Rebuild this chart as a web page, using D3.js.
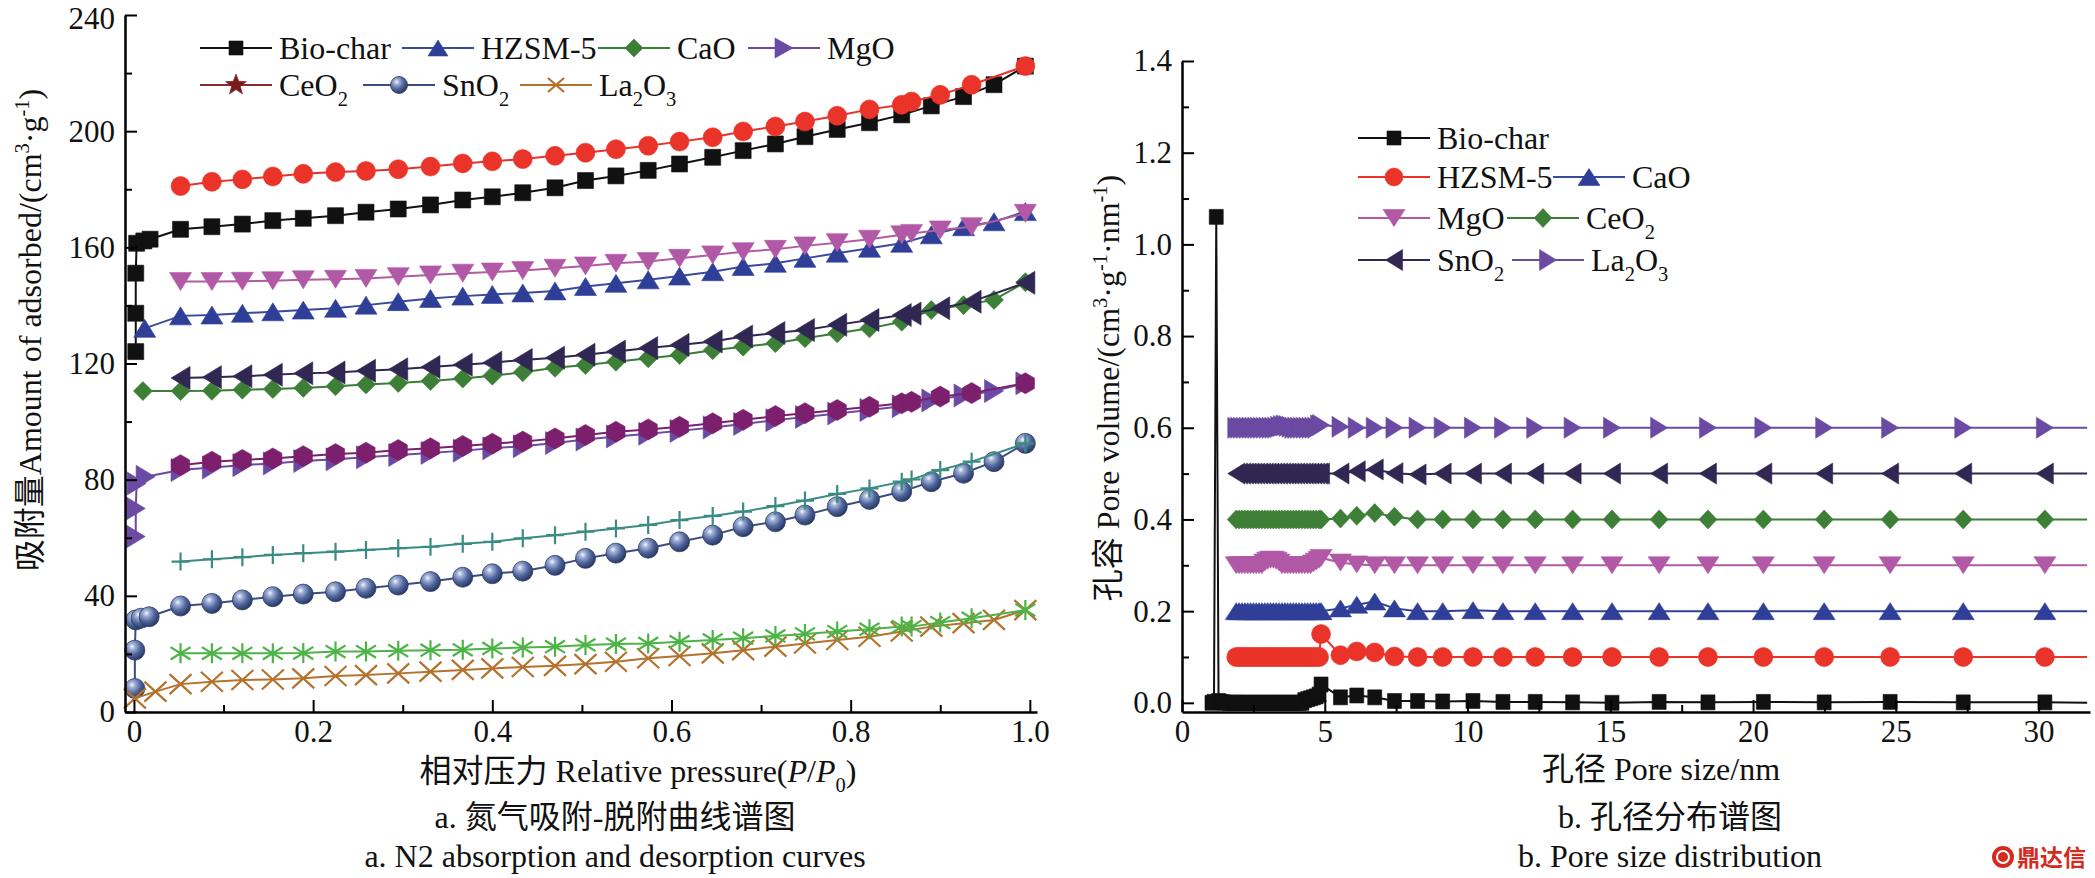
<!DOCTYPE html>
<html><head><meta charset="utf-8">
<script src="https://cdn.jsdelivr.net/npm/d3@7/dist/d3.min.js"></script>
<style>
html,body{margin:0;padding:0;background:#fff;}
svg{display:block;}
</style></head>
<body>
<svg id="chart" width="2095" height="878" xmlns="http://www.w3.org/2000/svg"></svg>
<script>
// ================= DATA: (a) N2 adsorption / desorption =================
const P_ADS = [0.052,0.087,0.121,0.155,0.189,0.225,0.259,0.295,0.331,0.367,0.400,0.434,0.470,0.504,0.538,0.574,0.609,0.646,0.680,0.716,0.749,0.785,0.821,0.857,0.890,0.926,0.960,0.995];
const P_DES = [0.052,0.087,0.121,0.155,0.189,0.225,0.259,0.295,0.331,0.367,0.400,0.434,0.470,0.504,0.538,0.574,0.609,0.646,0.680,0.716,0.749,0.785,0.821,0.857,0.868,0.900,0.935,0.995];

const BIOCHAR_LOW_P = [0.002,0.002,0.002,0.003,0.011,0.018];
const BIOCHAR_LOW   = [124.1,137.3,151.1,161.4,162.2,162.8];
const BIOCHAR_ADS = [166.2,167.1,168.0,169.2,170.0,170.9,172.1,173.2,174.6,176.3,177.4,178.8,180.5,183.0,184.6,186.5,188.7,191.0,193.3,195.6,198.1,200.6,202.9,205.6,208.7,211.9,216.0,222.4];
const BIOCHAR_DES = [181.1,182.6,183.4,184.4,185.3,185.9,186.3,186.9,187.8,188.9,189.6,190.4,191.5,192.6,193.8,195.0,196.4,197.9,199.9,201.6,203.3,205.3,207.5,209.1,210.2,212.5,216.0,222.4];

const HZSM_LOW_P = [0.012];
const HZSM_LOW   = [132.1];
const HZSM_ADS = [136.4,136.7,137.3,137.8,138.4,139.0,140.1,141.3,142.4,143.2,143.8,144.3,145.0,146.5,147.6,148.8,150.1,151.6,153.4,154.5,156.2,158.0,159.7,161.4,164.3,167.1,168.8,172.3];
const HZSM_DES = [148.2,148.2,148.3,148.5,148.8,149.0,149.3,149.9,150.5,151.1,151.5,152.0,152.8,153.6,154.5,155.1,156.2,157.4,158.5,159.3,160.5,161.6,162.8,164.3,164.8,166.0,167.1,171.7];

const CAO_LOW_P = [0.010];
const CAO_LOW   = [110.5];
const CAO_ADS = [110.5,110.6,111.0,111.2,111.6,112.2,112.8,113.3,114.0,114.8,115.8,117.0,118.5,119.5,120.6,121.8,122.9,124.6,125.8,127.0,128.7,130.4,132.1,134.4,138.4,140.1,141.9,148.0];
const CAO_DES = [115.0,115.3,115.6,116.1,116.6,116.9,117.5,118.0,118.8,119.6,120.3,121.2,122.0,123.0,124.1,125.3,126.4,127.6,129.3,130.5,131.5,133.3,135.0,136.7,137.2,139.0,141.3,147.8];

const MGO_LOW_P = [0.002,0.002,0.003,0.013];
const MGO_LOW   = [60.4,70.1,78.7,81.0];
const MGO_ADS = [83.3,84.2,85.0,85.6,86.4,87.0,87.7,88.5,89.2,90.0,90.8,91.5,92.6,93.8,94.9,95.8,96.8,98.0,99.2,100.5,101.6,102.8,104.0,105.3,107.3,109.0,110.5,113.2];
const MGO_DES = [85.0,86.2,86.8,87.3,88.1,88.8,89.3,90.2,90.8,91.6,92.4,93.1,94.2,95.4,96.5,97.3,98.2,99.4,100.6,101.9,102.9,104.0,105.1,106.3,106.8,108.6,109.8,113.2];

const SNO2_LOW_P = [0.001,0.001,0.002,0.008,0.017];
const SNO2_LOW   = [8.1,21.3,31.7,32.3,32.8];
const SNO2_ADS = [36.5,37.4,38.6,39.7,40.6,41.4,42.6,43.7,44.9,46.4,47.6,48.5,50.5,52.9,54.7,56.4,58.6,60.9,63.8,65.5,67.8,70.7,73.2,75.9,79.3,82.2,86.2,92.5];
const SNO2_DES = [51.8,52.6,53.3,54.1,54.7,55.2,55.8,56.4,56.9,57.9,58.6,59.8,60.9,62.1,63.2,64.4,66.1,67.5,69.0,70.9,72.8,75.1,77.0,79.3,80.1,83.3,86.2,92.5];

const LA_LOW_P = [0.001,0.024];
const LA_LOW   = [4.7,7.0];
const LA_ADS = [9.6,10.4,11.0,11.2,11.6,12.4,12.7,13.3,13.9,14.5,15.0,15.5,15.9,16.5,17.3,18.5,19.3,20.2,21.3,22.5,23.6,24.8,25.9,27.7,29.4,30.6,31.7,35.1];
const LA_DES = [20.2,20.2,20.2,20.2,20.3,20.8,20.8,21.1,21.3,21.4,21.9,22.2,22.5,23.1,23.4,23.6,24.2,24.8,25.4,26.2,26.9,27.7,28.5,29.4,29.4,30.8,32.3,35.1];

const A_X_TICKS = [0,0.2,0.4,0.6,0.8,1.0];
const A_X_MINOR = [0.1,0.3,0.5,0.7,0.9];
const A_Y_TICKS = [0,40,80,120,160,200,240];
const A_Y_MINOR = [20,60,100,140,180,220];

// ================= DATA: (b) pore size distribution =================
const BIO_PSD_LOW_X = [1.05,1.12,1.20,1.28,1.36,1.45,1.55,1.65,1.75,1.85];
const BIO_PSD_LOW   = [0.000,0.002,1.060,0.004,0.002,0.001,0.000,0.000,0.000,0.000];
const PSD_DENSE_X = [1.9,2.0,2.1,2.2,2.3,2.4,2.5,2.6,2.7,2.8,2.9,3.0,3.1,3.2,3.3,3.4,3.5,3.6,3.7,3.8,3.9,4.0,4.1,4.2,4.3,4.4,4.5,4.6,4.7,4.8];
const PSD_LARGE_X = [4.87,5.55,6.12,6.75,7.44,8.25,9.13,10.19,11.24,12.37,13.68,15.06,16.71,18.42,20.36,22.49,24.8,27.36,30.22];
const PSD_END_X = 31.7;

const BIO_PSD_DENSE  = [0,0,0,0,0,0,0,0,0,0,0,0,0,0,0,0,0,0,0,0,0,0,0,0,0.006,0.008,0.010,0.012,0.014,0.018];
const BIO_PSD_LARGE  = [0.040,0.012,0.016,0.012,0.004,0.004,0.003,0.004,0.002,0.002,0.001,0.000,0.002,0.001,0.002,0.001,0.002,0.001,0.001];
const HZSM_PSD_DENSE = [0.1,0.1,0.1,0.1,0.1,0.1,0.1,0.1,0.1,0.1,0.1,0.1,0.1,0.1,0.1,0.1,0.1,0.1,0.1,0.1,0.1,0.1,0.1,0.1,0.1,0.1,0.1,0.1,0.1,0.1];
const HZSM_PSD_LARGE = [0.150,0.104,0.112,0.110,0.101,0.100,0.100,0.100,0.100,0.100,0.100,0.100,0.100,0.100,0.100,0.100,0.100,0.100,0.100];
const CAO_PSD_DENSE  = [0.2,0.2,0.2,0.2,0.2,0.2,0.2,0.2,0.2,0.2,0.2,0.2,0.2,0.2,0.2,0.2,0.2,0.2,0.2,0.2,0.2,0.2,0.2,0.2,0.2,0.2,0.2,0.2,0.2,0.2];
const CAO_PSD_LARGE  = [0.200,0.206,0.214,0.221,0.206,0.200,0.200,0.202,0.200,0.200,0.200,0.200,0.200,0.200,0.200,0.200,0.200,0.200,0.200];
const MGO_PSD_DENSE  = [0.3,0.3,0.3,0.3,0.3,0.3,0.3,0.3,0.3,0.3,0.306,0.310,0.312,0.312,0.310,0.306,0.3,0.3,0.3,0.3,0.3,0.3,0.3,0.3,0.3,0.3,0.3,0.304,0.308,0.312];
const MGO_PSD_LARGE  = [0.316,0.306,0.302,0.300,0.300,0.300,0.300,0.300,0.300,0.300,0.300,0.300,0.300,0.300,0.300,0.300,0.300,0.300,0.300];
const CEO2_PSD_DENSE = [0.4,0.4,0.4,0.4,0.4,0.4,0.4,0.4,0.4,0.4,0.4,0.4,0.4,0.4,0.4,0.4,0.4,0.4,0.4,0.4,0.4,0.4,0.4,0.4,0.4,0.4,0.4,0.4,0.4,0.4];
const CEO2_PSD_LARGE = [0.400,0.402,0.408,0.414,0.406,0.400,0.400,0.400,0.400,0.400,0.400,0.400,0.400,0.400,0.400,0.400,0.400,0.400,0.400];
const SNO2_PSD_DENSE = [0.5,0.5,0.5,0.5,0.5,0.5,0.5,0.5,0.5,0.5,0.5,0.5,0.5,0.5,0.5,0.5,0.5,0.5,0.5,0.5,0.5,0.5,0.5,0.5,0.5,0.5,0.5,0.5,0.5,0.5];
const SNO2_PSD_LARGE = [0.500,0.500,0.505,0.509,0.501,0.498,0.500,0.500,0.500,0.500,0.500,0.500,0.500,0.500,0.500,0.500,0.500,0.500,0.500];
const LA_PSD_DENSE   = [0.6,0.6,0.6,0.6,0.6,0.6,0.6,0.6,0.6,0.6,0.6,0.6,0.6,0.6,0.6,0.602,0.604,0.605,0.604,0.602,0.6,0.6,0.6,0.6,0.6,0.6,0.6,0.6,0.6,0.605];
const LA_PSD_LARGE   = [0.606,0.602,0.600,0.600,0.600,0.600,0.600,0.600,0.600,0.600,0.600,0.600,0.600,0.600,0.600,0.600,0.600,0.600,0.600];

const B_X_TICKS = [0,5,10,15,20,25,30];
const B_X_MINOR = [2.5,7.5,12.5,17.5,22.5,27.5];
const B_Y_TICKS = [0,0.2,0.4,0.6,0.8,1.0,1.2,1.4];
const B_Y_MINOR = [0.1,0.3,0.5,0.7,0.9,1.1,1.3];

// ================= RENDERING =================
const SERIF = '"Liberation Serif","Times New Roman","Noto Sans CJK SC",serif';
const svg = d3.select("#chart");
const defs = svg.append("defs");
const grad = defs.append("radialGradient").attr("id","sphere").attr("cx","36%").attr("cy","32%").attr("r","72%");
[["0%","#f4f7fc"],["20%","#a3b3d8"],["58%","#50659c"],["100%","#24345c"]].forEach(([o,c])=>grad.append("stop").attr("offset",o).attr("stop-color",c));

function shapePath(shape, w, h){
  const a=w/2, b=h/2;
  switch(shape){
    case "square": return `M${-a},${-b}H${a}V${b}H${-a}Z`;
    case "triUp": return `M0,${-b}L${a},${b}L${-a},${b}Z`;
    case "triDown": return `M0,${b}L${a},${-b}L${-a},${-b}Z`;
    case "triRight": return `M${a},0L${-a},${-b}L${-a},${b}Z`;
    case "triLeft": return `M${-a},0L${a},${-b}L${a},${b}Z`;
    case "diamond": return `M0,${-b}L${a},0L0,${b}L${-a},0Z`;
    case "hexagon": {
      let s=""; for(let k=0;k<6;k++){const an=(-90+60*k)*Math.PI/180; s+=(k?"L":"M")+(a*Math.cos(an)).toFixed(2)+","+(b*Math.sin(an)).toFixed(2);} return s+"Z"; }
    case "star": {
      let s=""; for(let k=0;k<10;k++){const r=k%2?0.42:1; const an=(-90+36*k)*Math.PI/180; s+=(k?"L":"M")+(a*r*Math.cos(an)).toFixed(2)+","+(b*r*Math.sin(an)).toFixed(2);} return s+"Z"; }
    case "circle": case "sphere": return `M${a},0A${a},${b} 0 1,1 ${-a},0A${a},${b} 0 1,1 ${a},0Z`;
    case "plus": return `M${-a},0H${a}M0,${-b}V${b}`;
    case "cross": return `M${-a},${-b}L${a},${b}M${a},${-b}L${-a},${b}`;
    case "asterisk": return `M0,${-b}V${b}M${-a},${-b*0.62}L${a},${b*0.62}M${a},${-b*0.62}L${-a},${b*0.62}`;
  }
}
const STROKED = new Set(["plus","cross","asterisk"]);
function drawMarkers(g, pts, spec){
  const stroked = STROKED.has(spec.shape);
  g.append("g").selectAll("path").data(pts).join("path")
    .attr("transform", d=>`translate(${d[0]},${d[1]})`)
    .attr("d", shapePath(spec.shape, spec.w, spec.h))
    .attr("fill", stroked ? "none" : (spec.shape==="sphere" ? "url(#sphere)" : spec.fill))
    .attr("stroke", stroked ? spec.fill : (spec.shape==="sphere" ? "#2c3c66" : spec.fill))
    .attr("stroke-width", stroked ? 2.2 : (spec.shape==="sphere"?0.8:0.6));
}

function richText(sel, parts, fs){
  let shift = 0;
  parts.forEach(p=>{
    const t = sel.append("tspan").text(p.t);
    let target = 0;
    if(p.sub){ t.attr("font-size", fs*0.64); target = fs*0.30; }
    else if(p.sup){ t.attr("font-size", fs*0.64); target = -fs*0.36; }
    if(p.i) t.attr("font-style","italic");
    if(target!==shift){ t.attr("dy", target-shift); shift = target; }
  });
}
function addText(x, y, parts, fs, anchor, rotate){
  const t = svg.append("text")
    .attr("transform", `translate(${x},${y})` + (rotate?` rotate(${rotate})`:""))
    .attr("text-anchor", anchor||"start")
    .attr("font-family", SERIF).attr("font-size", fs).attr("fill","#111");
  richText(t, parts, fs);
  return t;
}

function drawAxes(x, y, xT, xM, yT, yM, xFmt, yFmt){
  const [x0] = x.range(), [yb] = y.range();
  const style = g=>{
    g.attr("font-family", null).attr("font-size", null);
    g.select(".domain").attr("stroke","#000").attr("stroke-width",2.5);
    g.selectAll(".tick line").attr("stroke","#000").attr("stroke-width",2);
    g.selectAll(".tick text").attr("fill","#111").attr("font-family",SERIF).attr("font-size",31);
  };
  svg.append("g").attr("transform",`translate(0,${yb})`)
    .call(d3.axisBottom(x).tickValues(xT).tickSize(-12).tickSizeOuter(0).tickPadding(8).tickFormat(xFmt)).call(style);
  svg.append("g").attr("transform",`translate(0,${yb})`)
    .call(d3.axisBottom(x).tickValues(xM).tickSize(-7).tickSizeOuter(0).tickFormat(()=>"")).call(style)
    .select(".domain").remove();
  const gy = svg.append("g").attr("transform",`translate(${x0},0)`)
    .call(d3.axisLeft(y).tickValues(yT).tickSize(-12).tickSizeOuter(0).tickPadding(10).tickFormat(yFmt)).call(style);
  svg.append("g").attr("transform",`translate(${x0},0)`)
    .call(d3.axisLeft(y).tickValues(yM).tickSize(-7).tickSizeOuter(0).tickFormat(()=>"")).call(style)
    .select(".domain").remove();
  return gy;
}

// ---------- Chart (a) ----------
const xA = d3.scaleLinear().domain([-0.01, 1.008]).range([125, 1037]);
const yA = d3.scaleLinear().domain([0, 240]).range([712, 15]);
const lineA = d3.line().x(d=>xA(d[0])).y(d=>yA(d[1]));
const zip = (xs, ys)=>xs.map((v,i)=>[v, ys[i]]);

const ADS = [
  {lowP:BIOCHAR_LOW_P, low:BIOCHAR_LOW, ys:BIOCHAR_ADS, line:"#111", fill:"#111", shape:"square", w:16, h:16},
  {lowP:HZSM_LOW_P, low:HZSM_LOW, ys:HZSM_ADS, line:"#3a4a9c", fill:"#2f3f98", shape:"triUp", w:22, h:18},
  {lowP:CAO_LOW_P, low:CAO_LOW, ys:CAO_ADS, line:"#3a7d35", fill:"#3d7f36", shape:"diamond", w:19, h:19},
  {lowP:MGO_LOW_P, low:MGO_LOW, ys:MGO_ADS, line:"#6b4aa0", fill:"#6a4aa2", shape:"triRight", w:19, h:23},
  {lowP:SNO2_LOW_P, low:SNO2_LOW, ys:SNO2_ADS, line:"#3b4d80", fill:"#4a5f95", shape:"sphere", w:20, h:20},
  {lowP:LA_LOW_P, low:LA_LOW, ys:LA_ADS, line:"#b4722d", fill:"#b4722d", shape:"cross", w:22, h:20}
];
const DES = [
  {ys:BIOCHAR_DES, line:"#e8312b", fill:"#ea3329", shape:"circle", w:19, h:19},
  {ys:HZSM_DES, line:"#b35aa5", fill:"#b159a6", shape:"triDown", w:22, h:18},
  {ys:CAO_DES, line:"#2f2752", fill:"#302852", shape:"triLeft", w:19, h:23},
  {ys:MGO_DES, line:"#7c1f6c", fill:"#7c1f6c", shape:"hexagon", w:21, h:21},
  {ys:SNO2_DES, line:"#3a8c82", fill:"#3a8c82", shape:"plus", w:18, h:18},
  {ys:LA_DES, line:"#4cb346", fill:"#4cb346", shape:"asterisk", w:20, h:20}
];
const gA = svg.append("g");
ADS.forEach((s,i)=>{
  const pts = zip(s.lowP.concat(P_ADS), s.low.concat(s.ys));
  const d = DES[i];
  const ptsD = zip(P_DES, d.ys);
  gA.append("path").attr("d", lineA(pts)).attr("fill","none").attr("stroke",s.line).attr("stroke-width",2);
  drawMarkers(gA, pts.map(p=>[xA(p[0]), yA(p[1])]), s);
  gA.append("path").attr("d", lineA(ptsD)).attr("fill","none").attr("stroke",d.line).attr("stroke-width",2);
  drawMarkers(gA, ptsD.map(p=>[xA(p[0]), yA(p[1])]), d);
});
const gyA = drawAxes(xA, yA, A_X_TICKS, A_X_MINOR, A_Y_TICKS, A_Y_MINOR, v=>v===0?"0":d3.format(".1f")(v), d3.format("d"));
// keep the top label inside the picture
gyA.selectAll(".tick text").filter(v=>v===240).attr("dy","0.42em");

// legend (a)
const LEG_A = [
  {x:200, y:48, name:[{t:"Bio-char"}], line:"#111", m:{fill:"#111", shape:"square", w:14, h:14}},
  {x:402, y:48, name:[{t:"HZSM-5"}], line:"#3a4a9c", m:{fill:"#2f3f98", shape:"triUp", w:20, h:16}},
  {x:598, y:48, name:[{t:"CaO"}], line:"#3a7d35", m:{fill:"#3d7f36", shape:"diamond", w:18, h:18}},
  {x:748, y:48, name:[{t:"MgO"}], line:"#6b4aa0", m:{fill:"#6a4aa2", shape:"triRight", w:18, h:20}},
  {x:200, y:85, name:[{t:"CeO"},{t:"2",sub:1}], line:"#8a2a2a", m:{fill:"#7a1c1c", shape:"star", w:22, h:22}},
  {x:363, y:85, name:[{t:"SnO"},{t:"2",sub:1}], line:"#3b4d80", m:{fill:"#4a5f95", shape:"sphere", w:17, h:17}},
  {x:520, y:85, name:[{t:"La"},{t:"2",sub:1},{t:"O"},{t:"3",sub:1}], line:"#b4722d", m:{fill:"#b4722d", shape:"cross", w:16, h:14}}
];
function drawLegend(items, len){
  items.forEach(it=>{
    svg.append("line").attr("x1",it.x).attr("x2",it.x+len).attr("y1",it.y).attr("y2",it.y).attr("stroke",it.line).attr("stroke-width",2);
    drawMarkers(svg, [[it.x+len/2, it.y]], it.m);
    addText(it.x+len+7, it.y+11, it.name, 32, "start");
  });
}
drawLegend(LEG_A, 72);

// axis titles (a)
addText(41, 330, [{t:"吸附量Amount of adsorbed/(cm"},{t:"3",sup:1},{t:"·g"},{t:"-1",sup:1},{t:")"}], 32, "middle", -90);
addText(638, 782, [{t:"相对压力 Relative pressure("},{t:"P",i:1},{t:"/"},{t:"P",i:1},{t:"0",sub:1},{t:")"}], 32, "middle");
addText(615, 828, [{t:"a. 氮气吸附-脱附曲线谱图"}], 32, "middle");
addText(615, 867, [{t:"a. N2 absorption and desorption curves"}], 32, "middle");

// ---------- Chart (b) ----------
const xB = d3.scaleLinear().domain([0, 31.8]).range([1182, 2090]);
const yB = d3.scaleLinear().domain([-0.02, 1.4]).range([712, 61]);
const lineB = d3.line().x(d=>xB(d[0])).y(d=>yB(d[1]));
const PSD = [
  {lowX:BIO_PSD_LOW_X, low:BIO_PSD_LOW, dense:BIO_PSD_DENSE, large:BIO_PSD_LARGE, end:0.000, color:"#111", shape:"square", w:14, h:15},
  {lowX:[], low:[], dense:HZSM_PSD_DENSE, large:HZSM_PSD_LARGE, end:0.100, color:"#ea3329", shape:"circle", w:19, h:19},
  {lowX:[], low:[], dense:CAO_PSD_DENSE, large:CAO_PSD_LARGE, end:0.200, color:"#2f3f98", shape:"triUp", w:22, h:17},
  {lowX:[], low:[], dense:MGO_PSD_DENSE, large:MGO_PSD_LARGE, end:0.300, color:"#b159a6", shape:"triDown", w:22, h:17},
  {lowX:[], low:[], dense:CEO2_PSD_DENSE, large:CEO2_PSD_LARGE, end:0.400, color:"#3d7f36", shape:"diamond", w:18, h:19},
  {lowX:[], low:[], dense:SNO2_PSD_DENSE, large:SNO2_PSD_LARGE, end:0.500, color:"#302852", shape:"triLeft", w:17, h:21},
  {lowX:[], low:[], dense:LA_PSD_DENSE, large:LA_PSD_LARGE, end:0.600, color:"#6a4aa2", shape:"triRight", w:17, h:21}
];
const gB = svg.append("g");
PSD.slice().reverse().forEach(s=>{
  const xs = s.lowX.concat(PSD_DENSE_X, PSD_LARGE_X);
  const ys = s.low.concat(s.dense, s.large);
  const pts = zip(xs, ys);
  gB.append("path").attr("d", lineB(pts.concat([[PSD_END_X, s.end]]))).attr("fill","none").attr("stroke",s.color).attr("stroke-width",2);
  drawMarkers(gB, pts.map(p=>[xB(p[0]), yB(p[1])]), {fill:s.color, shape:s.shape, w:s.w, h:s.h});
});
drawAxes(xB, yB, B_X_TICKS, B_X_MINOR, B_Y_TICKS, B_Y_MINOR, d3.format("d"), d3.format(".1f"));

const LEG_B = [
  {x:1358, y:138, name:[{t:"Bio-char"}], line:"#111", m:{fill:"#111", shape:"square", w:14, h:14}},
  {x:1358, y:177, name:[{t:"HZSM-5"}], line:"#ea3329", m:{fill:"#ea3329", shape:"circle", w:18, h:18}},
  {x:1553, y:177, name:[{t:"CaO"}], line:"#3a4a9c", m:{fill:"#2f3f98", shape:"triUp", w:22, h:17}},
  {x:1358, y:218, name:[{t:"MgO"}], line:"#b159a6", m:{fill:"#b159a6", shape:"triDown", w:22, h:17}},
  {x:1507, y:218, name:[{t:"CeO"},{t:"2",sub:1}], line:"#3a7d35", m:{fill:"#3d7f36", shape:"diamond", w:18, h:19}},
  {x:1358, y:260, name:[{t:"SnO"},{t:"2",sub:1}], line:"#302852", m:{fill:"#302852", shape:"triLeft", w:17, h:21}},
  {x:1512, y:260, name:[{t:"La"},{t:"2",sub:1},{t:"O"},{t:"3",sub:1}], line:"#6a4aa2", m:{fill:"#6a4aa2", shape:"triRight", w:17, h:21}}
];
drawLegend(LEG_B, 72);

addText(1119, 388, [{t:"孔容 Pore volume/(cm"},{t:"3",sup:1},{t:"·g"},{t:"-1",sup:1},{t:"·nm"},{t:"-1",sup:1},{t:")"}], 32, "middle", -90);
addText(1661, 780, [{t:"孔径 Pore size/nm"}], 32, "middle");
addText(1670, 828, [{t:"b. 孔径分布谱图"}], 32, "middle");
addText(1670, 867, [{t:"b. Pore size distribution"}], 32, "middle");

// watermark
const wm = svg.append("g").attr("transform","translate(2003,857)");
wm.append("circle").attr("r",11).attr("fill","#d52b1e");
wm.append("circle").attr("r",6).attr("fill","none").attr("stroke","#fff").attr("stroke-width",2);
svg.append("text").attr("x",2017).attr("y",866).attr("font-family",'"Noto Sans CJK SC",sans-serif').attr("font-weight","bold")
  .attr("font-size",23).attr("fill","#d52b1e").text("鼎达信");
</script>
</body></html>
